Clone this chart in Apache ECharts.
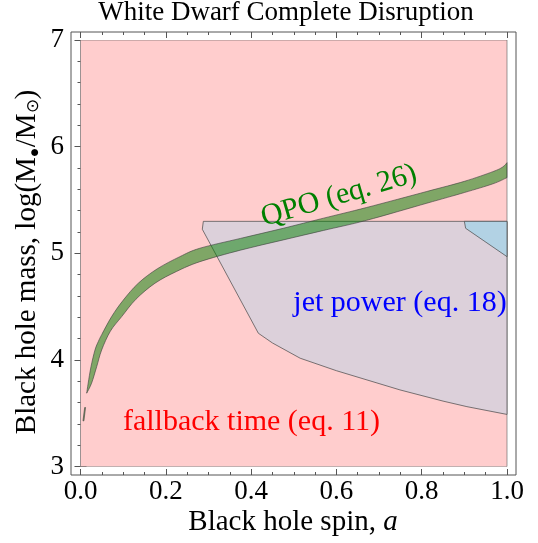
<!DOCTYPE html>
<html>
<head>
<meta charset="utf-8">
<script src="https://cdn.jsdelivr.net/npm/echarts@6/dist/echarts.min.js"></script>
<style>html,body{margin:0;padding:0;background:#fff;}#c{width:538px;height:543px;}</style>
</head>
<body>
<div id="c"></div>
<script>
// ---- data (spin a, log mass) ----
const fallbackA = [0, 1, 1, 0];
const fallbackM = [3, 3, 7, 7];

const jetA = [0.288, 0.2856, 0.417, 0.45, 0.515, 0.6, 0.749, 0.85, 0.906, 1.0, 1.0];
const jetM = [5.30, 5.226, 4.251, 4.16, 4.017, 3.90, 3.72, 3.615, 3.563, 3.49, 5.30];

const jetBlueA = [0.900, 0.903, 1.0, 1.0];
const jetBlueM = [5.30, 5.235, 4.969, 5.30];

const qpoUpperA = [0.0145, 0.018, 0.0246, 0.034, 0.042, 0.05, 0.073, 0.1, 0.1355, 0.18, 0.233, 0.28, 0.375, 0.4755, 0.57, 0.671, 0.812, 0.9, 0.967, 0.99, 1.0];
const qpoUpperM = [3.689, 3.783, 3.938, 4.095, 4.175, 4.24, 4.407, 4.56, 4.72, 4.855, 4.969, 5.048, 5.14, 5.235, 5.33, 5.43, 5.58, 5.675, 5.766, 5.81, 5.85];
const qpoLowerA = [0.0145, 0.026, 0.038, 0.0497, 0.07, 0.0966, 0.13, 0.1747, 0.225, 0.28, 0.375, 0.4755, 0.57, 0.671, 0.812, 0.9, 0.967, 1.0];
const qpoLowerM = [3.689, 3.783, 3.938, 4.095, 4.27, 4.407, 4.57, 4.72, 4.83, 4.922, 5.03, 5.126, 5.215, 5.31, 5.47, 5.57, 5.652, 5.71];

const sliverA = [0.0058, 0.0098, 0.0118, 0.0080];
const sliverM = [3.43, 3.555, 3.555, 3.43];

const xTickStep = 0.2, yTickStep = 1;

// ---- helpers ----
function zip(as, ms) { return as.map((a, i) => [a, ms[i]]); }
function polySeries(pts, fill, stroke, lw, z) {
  return {
    type: 'custom', coordinateSystem: 'cartesian2d', xAxisIndex: 0, yAxisIndex: 0,
    data: pts, z: z, silent: true, clip: true, animation: false,
    renderItem: function (params, api) {
      if (params.dataIndex !== 0) return;
      const p = pts.map(d => api.coord(d));
      return { type: 'polygon', shape: { points: p }, style: { fill: fill, stroke: stroke, lineWidth: lw } };
    }
  };
}
// smooth (Catmull-Rom) path segment through pixel points, continuing current path
function crPath(p, start) {
  let s = start ? 'M' + p[0][0] + ' ' + p[0][1] : 'L' + p[0][0] + ' ' + p[0][1];
  for (let i = 0; i < p.length - 1; i++) {
    const p0 = p[Math.max(i - 1, 0)], p1 = p[i], p2 = p[i + 1], p3 = p[Math.min(i + 2, p.length - 1)];
    const c1 = [p1[0] + (p2[0] - p0[0]) / 6, p1[1] + (p2[1] - p0[1]) / 6];
    const c2 = [p2[0] - (p3[0] - p1[0]) / 6, p2[1] - (p3[1] - p1[1]) / 6];
    s += 'C' + c1[0] + ' ' + c1[1] + ' ' + c2[0] + ' ' + c2[1] + ' ' + p2[0] + ' ' + p2[1];
  }
  return s;
}
function bandSeries(upper, lower, fill, stroke, lw, z) {
  return {
    type: 'custom', coordinateSystem: 'cartesian2d', xAxisIndex: 0, yAxisIndex: 0,
    data: upper.concat(lower), z: z, silent: true, clip: true, animation: false,
    renderItem: function (params, api) {
      if (params.dataIndex !== 0) return;
      const pu = upper.map(d => api.coord(d));
      const pl = lower.map(d => api.coord(d)).reverse();
      const d = crPath(pu, true) + crPath(pl, false) + 'Z';
      return { type: 'path', shape: { pathData: d }, style: { fill: fill, stroke: stroke, lineWidth: lw } };
    }
  };
}

const FONT = '"Liberation Serif", "Times New Roman", serif';
const frameColor = '#555';

const chart = echarts.init(document.getElementById('c'), null, { renderer: 'canvas' });
const axisCommon = {
  type: 'value', splitLine: { show: false }, axisLine: { show: false },
  axisTick: { show: true, inside: true, length: 6, lineStyle: { color: frameColor, width: 1 } },
  minorTick: { show: true, length: 3, lineStyle: { color: frameColor, width: 1 } },
  minorSplitLine: { show: false }
};
chart.setOption({
  animation: false,
  backgroundColor: '#fff',
  grid: { left: 80.5, right: 31, top: 40, bottom: 76.3, outerBoundsMode: 'none', containLabel: false },
  xAxis: [
    Object.assign({}, axisCommon, {
      position: 'bottom', min: 0, max: 1, interval: xTickStep, offset: 8.3,
      minorTick: Object.assign({}, axisCommon.minorTick, { splitNumber: 4 }),
      axisLabel: { show: true, margin: 3, fontFamily: FONT, fontSize: 27, color: '#000',
        formatter: v => v.toFixed(1) }
    }),
    Object.assign({}, axisCommon, {
      position: 'top', min: 0, max: 1, interval: xTickStep, offset: 8,
      minorTick: Object.assign({}, axisCommon.minorTick, { splitNumber: 4 }),
      axisLabel: { show: false }
    })
  ],
  yAxis: [
    Object.assign({}, axisCommon, {
      position: 'left', min: 3, max: 7, interval: yTickStep, offset: 9.5,
      minorTick: Object.assign({}, axisCommon.minorTick, { splitNumber: 5 }),
      axisLabel: { show: true, margin: 7, fontFamily: FONT, fontSize: 27, color: '#000' }
    }),
    Object.assign({}, axisCommon, {
      position: 'right', min: 3, max: 7, interval: yTickStep, offset: 8.5,
      minorTick: Object.assign({}, axisCommon.minorTick, { splitNumber: 5 }),
      axisLabel: { show: false }
    })
  ],
  series: [
    polySeries(zip(fallbackA, fallbackM), 'rgb(255,205,205)', 'rgba(90,90,90,0.6)', 1, 1),
    polySeries(zip(jetA, jetM), 'rgb(220,208,218)', 'rgba(70,70,70,0.7)', 1, 2),
    polySeries(zip(jetBlueA, jetBlueM), 'rgb(178,210,228)', 'rgba(70,70,70,0.7)', 1, 3),
    bandSeries(zip(qpoUpperA, qpoUpperM), zip(qpoLowerA, qpoLowerM), 'rgba(0,128,0,0.5)', 'rgba(60,60,60,0.75)', 0.8, 4),
    polySeries(zip(sliverA, sliverM), 'rgba(0,128,0,0.5)', 'rgba(60,60,60,0.75)', 0.8, 4)
  ],
  graphic: [
    { type: 'rect', shape: { x: 71, y: 32, width: 445, height: 443 }, style: { fill: null, stroke: frameColor, lineWidth: 1 }, z: 100, silent: true },
    { type: 'text', x: 286, y: 13, style: { text: 'White Dwarf Complete Disruption', font: '27px ' + FONT, fill: '#000', align: 'center', verticalAlign: 'middle' }, z: 100 },
    { type: 'text', x: 293, y: 522, style: { text: '{n|Black hole spin, }{i|a}', align: 'center', verticalAlign: 'middle',
        rich: { n: { fontFamily: FONT, fontSize: 29, fill: '#000' }, i: { fontFamily: FONT, fontSize: 29, fontStyle: 'italic', fill: '#000' } } }, z: 100 },
    { type: 'text', x: 27, y: 262, rotation: Math.PI / 2,
      style: { text: '{n|Black hole mass, log(M}{b|●}{n|/M}{s|⊙}{n|)}', align: 'center', verticalAlign: 'middle',
        rich: { n: { fontFamily: FONT, fontSize: 29, fill: '#000' },
                b: { fontFamily: '"DejaVu Sans", sans-serif', fontSize: 9, fill: '#000', padding: [16, 1, 0, 1] },
                s: { fontFamily: FONT, fontSize: 17, fill: '#000', padding: [14, 0, 0, 0] } } }, z: 100 },
    { type: 'text', x: 339, y: 196, rotation: 0.284,
      style: { text: 'QPO (eq. 26)', font: '30px ' + FONT, fill: '#008000', align: 'center', verticalAlign: 'middle' }, z: 100 },
    { type: 'text', x: 400, y: 303, style: { text: 'jet power (eq. 18)', font: '30px ' + FONT, fill: '#0000ff', align: 'center', verticalAlign: 'middle' }, z: 100 },
    { type: 'text', x: 251.5, y: 422, style: { text: 'fallback time (eq. 11)', font: '30px ' + FONT, fill: '#ff0000', align: 'center', verticalAlign: 'middle' }, z: 100 }
  ]
});
</script>
</body>
</html>
